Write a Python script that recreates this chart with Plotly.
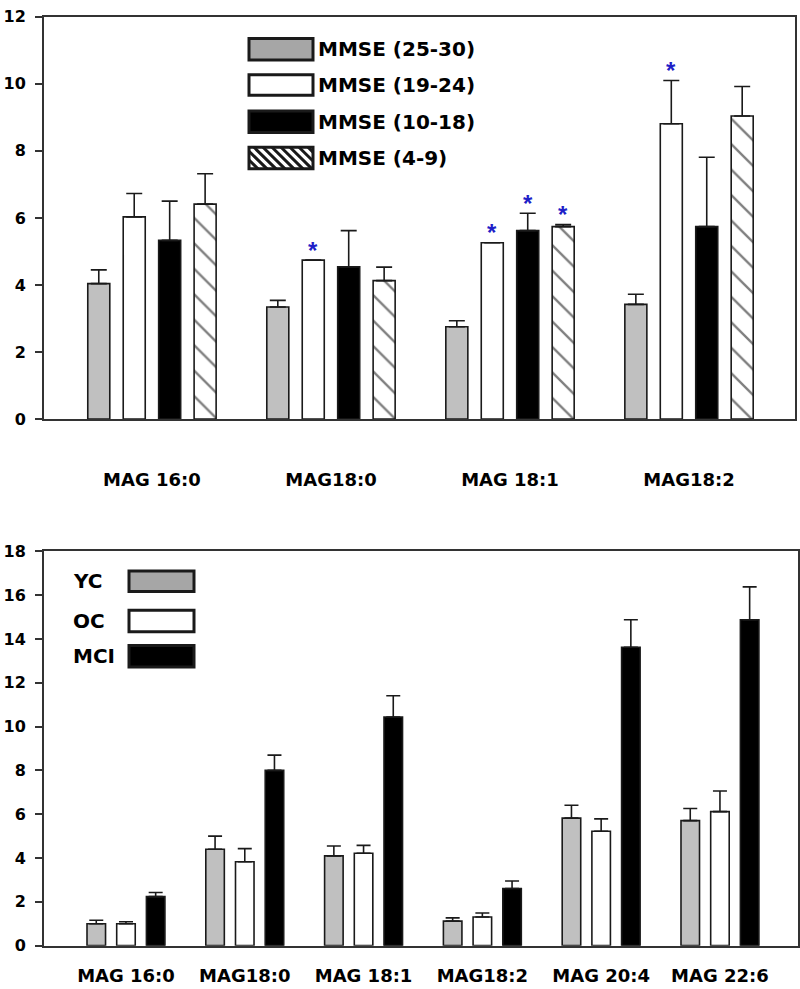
import plotly.graph_objects as go

W, H = 800, 989

# ---------------- data: top panel ----------------
top_categories = ["MAG 16:0", "MAG18:0", "MAG 18:1", "MAG18:2"]
top_series = ["MMSE (25-30)", "MMSE (19-24)", "MMSE (10-18)", "MMSE (4-9)"]
mmse_25_30 = [4.04, 3.34, 2.75, 3.42]
mmse_25_30_err = [0.41, 0.20, 0.18, 0.30]
mmse_19_24 = [6.03, 4.74, 5.26, 8.81]
mmse_19_24_err = [0.70, None, None, 1.29]
mmse_10_18 = [5.33, 4.54, 5.62, 5.74]
mmse_10_18_err = [1.17, 1.08, 0.52, 2.07]
mmse_4_9 = [6.41, 4.13, 5.74, 9.04]
mmse_4_9_err = [0.91, 0.40, 0.06, 0.88]
# significance asterisks: (series index, category index)
top_significant = [(1, 1), (1, 2), (2, 2), (3, 2), (1, 3)]
top_yticks = [0, 2, 4, 6, 8, 10, 12]

# ---------------- data: bottom panel ----------------
bottom_categories = ["MAG 16:0", "MAG18:0", "MAG 18:1", "MAG18:2", "MAG 20:4", "MAG 22:6"]
bottom_series = ["YC", "OC", "MCI"]
yc = [1.00, 4.40, 4.10, 1.12, 5.82, 5.71]
yc_err = [0.16, 0.60, 0.45, 0.15, 0.59, 0.55]
oc = [1.00, 3.83, 4.22, 1.31, 5.22, 6.12]
oc_err = [0.09, 0.60, 0.36, 0.18, 0.57, 0.94]
mci = [2.24, 8.00, 10.44, 2.61, 13.62, 14.88]
mci_err = [0.19, 0.70, 0.97, 0.34, 1.26, 1.50]
bottom_yticks = [0, 2, 4, 6, 8, 10, 12, 14, 16, 18]

# ---------------- styles ----------------
EDGE = "#1a1a1a"
AXIS = "#333333"
BAR_GRAY = "#c0c0c0"
LEG_GRAY = "#a6a6a6"
STAR = "#1f1fc8"
TXT_FONT = "DejaVu Sans"

top_fills = [BAR_GRAY, "white", "black", "white"]
top_patterns = [None, None, None, "\\"]
bottom_fills = [BAR_GRAY, "white", "black"]

TOP_PITCH, TOP_WIDTH = 0.198, 0.123
BOT_PITCH, BOT_WIDTH = 0.25, 0.156


def pxx(x):
    return x / W


def pyy(y):
    return 1 - y / H


fig = go.Figure()

top_vals = [mmse_25_30, mmse_19_24, mmse_10_18, mmse_4_9]
top_errs = [mmse_25_30_err, mmse_19_24_err, mmse_10_18_err, mmse_4_9_err]
ntop = len(top_series)
for i, name in enumerate(top_series):
    center = (i - (ntop - 1) / 2) * TOP_PITCH
    marker = dict(color=top_fills[i], line=dict(color=EDGE, width=1.6))
    if top_patterns[i]:
        marker["pattern"] = dict(shape=top_patterns[i], fgcolor="black", bgcolor="white",
                                 size=18, solidity=0.13)
    errs = top_errs[i]
    fig.add_trace(go.Bar(
        x=list(range(len(top_categories))), y=top_vals[i], name=name,
        width=TOP_WIDTH, offset=center - TOP_WIDTH / 2,
        marker=marker, showlegend=False,
        error_y=dict(type="data", symmetric=False, array=errs,
                     arrayminus=[0 if e is not None else None for e in errs],
                     color=EDGE, thickness=1.6, width=8),
        xaxis="x", yaxis="y",
    ))

bot_vals = [yc, oc, mci]
bot_errs = [yc_err, oc_err, mci_err]
nbot = len(bottom_series)
for i, name in enumerate(bottom_series):
    center = (i - (nbot - 1) / 2) * BOT_PITCH
    fig.add_trace(go.Bar(
        x=list(range(len(bottom_categories))), y=bot_vals[i], name=name,
        width=BOT_WIDTH, offset=center - BOT_WIDTH / 2,
        marker=dict(color=bottom_fills[i], line=dict(color=EDGE, width=1.6)),
        showlegend=False,
        error_y=dict(type="data", symmetric=False, array=bot_errs[i],
                     arrayminus=[0] * len(bot_errs[i]), color=EDGE, thickness=1.6, width=7),
        xaxis="x2", yaxis="y2",
    ))

annotations = []
# asterisks
for s, c in top_significant:
    center = (s - (ntop - 1) / 2) * TOP_PITCH
    top = top_vals[s][c] + (top_errs[s][c] or 0)
    annotations.append(dict(x=c + center, y=top, xref="x", yref="y", text="<b>*</b>",
                            showarrow=False, yanchor="middle", yshift=10,
                            font=dict(family="Liberation Sans", size=24, color=STAR)))

shapes = []
# top legend
top_leg_fills = [LEG_GRAY, "white", "black", "white"]
top_leg_boxes = [(30, 52), (67, 88), (104, 126), (141, 163)]
LX0, LX1 = 249, 313
for i, name in enumerate(top_series):
    y0, y1 = top_leg_boxes[i]
    shapes.append(dict(type="rect", xref="paper", yref="paper",
                       x0=pxx(LX0), x1=pxx(LX1), y0=pyy(y1), y1=pyy(y0),
                       fillcolor=top_leg_fills[i], line=dict(color=EDGE, width=3)))
    if top_patterns[i]:
        w, h, d = LX1 - LX0, y1 - y0, 9
        path = ""
        c = -h
        while c < w:
            t0 = max(0, -c)
            t1 = min(h, w - c)
            if t1 > t0:
                path += "M{},{} L{},{} ".format(pxx(LX0 + c + t0), pyy(y0 + t0),
                                                pxx(LX0 + c + t1), pyy(y0 + t1))
            c += d
        shapes.append(dict(type="path", xref="paper", yref="paper", path=path,
                           line=dict(color=EDGE, width=3)))
    annotations.append(dict(x=pxx(316), y=pyy((y0 + y1) / 2), xref="paper", yref="paper",
                            text="<b>" + name + "</b>", showarrow=False, xanchor="left",
                            yanchor="middle", font=dict(family=TXT_FONT, size=20, color="black")))

# bottom legend
bot_leg_fills = [LEG_GRAY, "white", "black"]
bot_leg_boxes = [(573, 594), (613, 635), (649, 671)]
for i, name in enumerate(bottom_series):
    y0, y1 = bot_leg_boxes[i]
    shapes.append(dict(type="rect", xref="paper", yref="paper",
                       x0=pxx(129), x1=pxx(194), y0=pyy(y1), y1=pyy(y0),
                       fillcolor=bot_leg_fills[i], line=dict(color=EDGE, width=3)))
    annotations.append(dict(x=pxx(71), y=pyy((y0 + y1) / 2), xref="paper", yref="paper",
                            text="<b>" + name + "</b>", showarrow=False, xanchor="left",
                            yanchor="middle", font=dict(family=TXT_FONT, size=20, color="black")))

axis_common = dict(showline=True, linecolor=AXIS, linewidth=2, mirror=True,
                   showgrid=False, zeroline=False)

fig.update_layout(
    width=W, height=H, barmode="overlay",
    margin=dict(l=0, r=0, t=0, b=0),
    paper_bgcolor="white", plot_bgcolor="white",
    xaxis=dict(domain=[pxx(44), pxx(795)], anchor="y", range=[-0.603, 3.592],
               tickvals=list(range(len(top_categories))), ticktext=top_categories,
               ticks="", ticklabelstandoff=43,
               tickfont=dict(family=TXT_FONT, size=18, color="black", weight="bold"),
               **axis_common),
    yaxis=dict(domain=[pyy(418), pyy(8)], anchor="x", range=[0, 12],
               tickvals=top_yticks, ticks="outside", ticklen=7, tickwidth=1.5, tickcolor=AXIS,
               ticklabelstandoff=6,
               tickfont=dict(family=TXT_FONT, size=16, color="black", weight="bold"),
               **axis_common),
    xaxis2=dict(domain=[pxx(44), pxx(798)], anchor="y2", range=[-0.69, 5.657],
                tickvals=list(range(len(bottom_categories))), ticktext=bottom_categories,
                ticks="", ticklabelstandoff=13,
                tickfont=dict(family=TXT_FONT, size=18, color="black", weight="bold"),
                **axis_common),
    yaxis2=dict(domain=[pyy(955), pyy(553)], anchor="x2", range=[0, 18],
                tickvals=bottom_yticks, ticks="outside", ticklen=7, tickwidth=1.5, tickcolor=AXIS,
                ticklabelstandoff=6,
                tickfont=dict(family=TXT_FONT, size=16, color="black", weight="bold"),
                **axis_common),
    shapes=shapes, annotations=annotations,
)

fig.write_html("out.html", config={"displayModeBar": False},
               post_script="document.body.style.margin='0px';document.body.style.overflow='hidden';")
